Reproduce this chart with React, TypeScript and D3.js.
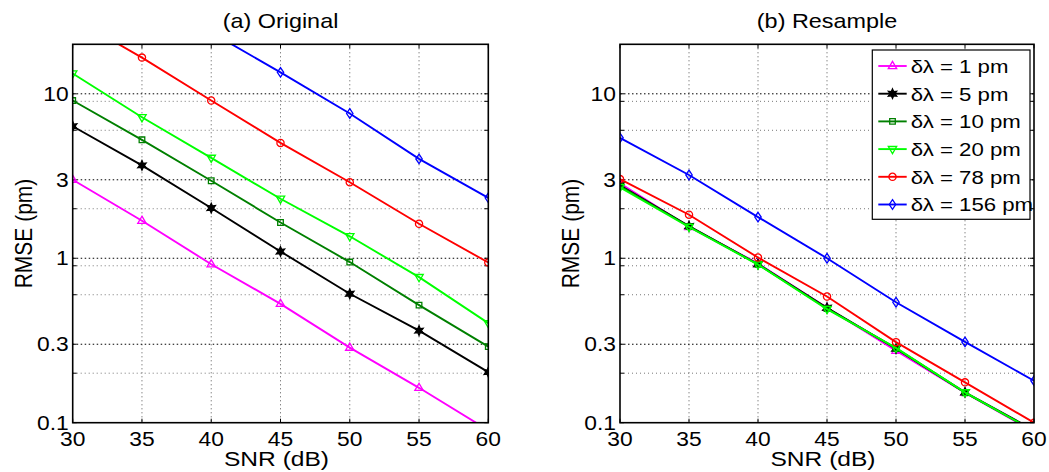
import React from 'react';
import * as d3 from 'd3';

// ---------- data ----------
const snr = [30, 35, 40, 45, 50, 55, 60];
const seriesNames = ['δλ = 1 pm', 'δλ = 5 pm', 'δλ = 10 pm', 'δλ = 20 pm', 'δλ = 78 pm', 'δλ = 156 pm'];
const seriesColors = ['#ff00ff', '#000000', '#008000', '#00ff00', '#ff0000', '#0000ff'];
const seriesMarkers = ['triangleUp', 'hexagram', 'square', 'triangleDown', 'circle', 'diamond'];

// (a) Original
const origDl1 = [3.0, 1.69, 0.92, 0.528, 0.286, 0.163, 0.09];
const origDl5 = [6.35, 3.67, 2.02, 1.1, 0.608, 0.363, 0.203];
const origDl10 = [9.1, 5.25, 2.96, 1.65, 0.948, 0.519, 0.29];
const origDl20 = [13.3, 7.2, 4.08, 2.3, 1.36, 0.768, 0.403];
const origDl78 = [29, 16.6, 9.1, 5.03, 2.9, 1.62, 0.942];
const origDl156 = [72, 41, 23.6, 13.5, 7.59, 4.02, 2.33];

// (b) Resample
const resDl1 = [2.86, 1.55, 0.93, 0.5, 0.274, 0.152, 0.088];
const resDl5 = [2.78, 1.57, 0.92, 0.5, 0.282, 0.153, 0.09];
const resDl10 = [2.75, 1.56, 0.92, 0.495, 0.283, 0.152, 0.089];
const resDl20 = [2.7, 1.55, 0.915, 0.49, 0.285, 0.153, 0.089];
const resDl78 = [3.03, 1.84, 1.01, 0.585, 0.309, 0.176, 0.1];
const resDl156 = [5.4, 3.21, 1.78, 1.0, 0.54, 0.31, 0.18];

const yTicks = [0.1, 0.3, 1, 3, 10];
const yTickLabels = ['0.1', '0.3', '1', '3', '10'];
const yMinorGrid = [0.2, 0.6, 0.9, 2, 6, 9];
const xTicks = [30, 35, 40, 45, 50, 55, 60];

// ---------- layout ----------
const W = 1049;
const H = 472;
const TOP = 44.3;
const BOTTOM = 422.7;
const SX = 1.17; // horizontal text stretch of the reference
const FONT = '"Liberation Sans", Arial, Helvetica, sans-serif';

function markerPath(type: string): string {
  switch (type) {
    case 'triangleUp':
      return 'M0,-4.6L4.2,2.6L-4.2,2.6Z';
    case 'triangleDown':
      return 'M0,4.6L4.2,-2.6L-4.2,-2.6Z';
    case 'square':
      return 'M-2.8,-2.8H2.8V2.8H-2.8Z';
    case 'circle':
      return 'M3.6,0A3.6,3.6 0 1,1 -3.6,0A3.6,3.6 0 1,1 3.6,0Z';
    case 'diamond':
      return 'M0,-4.8L3.2,0L0,4.8L-3.2,0Z';
    case 'hexagram': {
      const pts: string[] = [];
      for (let i = 0; i < 12; i++) {
        const a = (Math.PI / 6) * i - Math.PI / 2;
        const r = i % 2 === 0 ? 4.8 : 2.4;
        pts.push(`${(r * Math.cos(a)).toFixed(2)},${(r * Math.sin(a)).toFixed(2)}`);
      }
      return 'M' + pts.join('L') + 'Z';
    }
    default:
      return '';
  }
}

function Marker({ type, color, x, y }: { type: string; color: string; x: number; y: number }) {
  const filled = type === 'hexagram';
  return (
    <path
      d={markerPath(type)}
      transform={`translate(${x},${y})`}
      fill={filled ? color : 'none'}
      stroke={color}
      strokeWidth={1.3}
    />
  );
}

function SText({ x, y, children, anchor = 'middle', size, rotate = false }: any) {
  const tr = rotate
    ? `translate(${x},${y}) scale(${SX},1) rotate(-90)`
    : `translate(${x},${y}) scale(${SX},1)`;
  return (
    <text transform={tr} textAnchor={anchor} fontSize={size} fontFamily={FONT} fill="#000">
      {children}
    </text>
  );
}

interface PanelProps {
  id: string;
  left: number;
  right: number;
  title: string;
  series: number[][];
  legend?: boolean;
}

function Panel({ id, left, right, title, series, legend }: PanelProps) {
  const x = d3.scaleLinear().domain([30, 60]).range([left, right]);
  const y = d3.scaleLog().domain([0.1, 20]).range([BOTTOM, TOP]);
  const line = d3
    .line<number>()
    .x((_, i) => x(snr[i]))
    .y((d) => y(d));
  const cx = (left + right) / 2;

  return (
    <g>
      <defs>
        <clipPath id={`clip-${id}`}>
          <rect x={left} y={TOP} width={right - left} height={BOTTOM - TOP} />
        </clipPath>
      </defs>
      <rect x={left} y={TOP} width={right - left} height={BOTTOM - TOP} fill="#fff" />
      {/* grid */}
      {xTicks.slice(1, -1).map((t) => (
        <line key={`vx${t}`} x1={x(t)} x2={x(t)} y1={TOP} y2={BOTTOM} stroke="#555" strokeWidth={1} strokeDasharray="1,3" />
      ))}
      {yTicks.slice(1).map((t) => (
        <line key={`hy${t}`} x1={left} x2={right} y1={y(t)} y2={y(t)} stroke="#000" strokeWidth={1} strokeDasharray="1.5,2.5" />
      ))}
      {yMinorGrid.map((t) => (
        <line key={`hm${t}`} x1={left} x2={right} y1={y(t)} y2={y(t)} stroke="#777" strokeWidth={1} strokeDasharray="1,3" />
      ))}
      {/* ticks */}
      {xTicks.map((t) => (
        <g key={`tx${t}`} stroke="#000" strokeWidth={1}>
          <line x1={x(t)} x2={x(t)} y1={BOTTOM} y2={BOTTOM - 4} />
          <line x1={x(t)} x2={x(t)} y1={TOP} y2={TOP + 4} />
        </g>
      ))}
      {yTicks.concat(yMinorGrid).map((t) => (
        <g key={`ty${t}`} stroke="#000" strokeWidth={1}>
          <line x1={left} x2={left + 4} y1={y(t)} y2={y(t)} />
          <line x1={right} x2={right - 4} y1={y(t)} y2={y(t)} />
        </g>
      ))}
      {/* series */}
      <g clipPath={`url(#clip-${id})`}>
        {series.map((vals, si) => (
          <g key={`s${si}`}>
            <path d={line(vals) || ''} fill="none" stroke={seriesColors[si]} strokeWidth={1.9} />
            {vals.map((v, i) => (
              <Marker key={i} type={seriesMarkers[si]} color={seriesColors[si]} x={x(snr[i])} y={y(v)} />
            ))}
          </g>
        ))}
      </g>
      {/* frame */}
      <rect x={left} y={TOP} width={right - left} height={BOTTOM - TOP} fill="none" stroke="#000" strokeWidth={1.6} />
      {/* tick labels */}
      {xTicks.map((t) => (
        <SText key={`lx${t}`} x={x(t)} y={BOTTOM + 23} size={19.5}>
          {t}
        </SText>
      ))}
      {yTicks.map((t, i) => (
        <SText key={`ly${t}`} x={left - 4} y={y(t) + 7} size={19.5} anchor="end">
          {yTickLabels[i]}
        </SText>
      ))}
      {/* labels */}
      <SText x={cx} y={28} size={20}>
        {title}
      </SText>
      <SText x={cx - 4} y={465.7} size={21}>
        SNR (dB)
      </SText>
      <SText x={left - 41} y={(TOP + BOTTOM) / 2} size={21} rotate>
        RMSE (pm)
      </SText>
      {legend && (
        <g>
          <rect x={872.3} y={50} width={157.7} height={169.3} fill="#fff" stroke="#000" strokeWidth={1.2} />
          {seriesNames.map((name, si) => {
            const ry = 66 + si * 27.7;
            return (
              <g key={`lg${si}`}>
                <line x1={878.3} x2={906.7} y1={ry} y2={ry} stroke={seriesColors[si]} strokeWidth={1.9} />
                <Marker type={seriesMarkers[si]} color={seriesColors[si]} x={892.5} y={ry} />
                <SText x={910.7} y={ry + 6.8} size={19} anchor="start">
                  {name}
                </SText>
              </g>
            );
          })}
        </g>
      )}
    </g>
  );
}

export default function App() {
  const orig = [origDl1, origDl5, origDl10, origDl20, origDl78, origDl156];
  const res = [resDl1, resDl5, resDl10, resDl20, resDl78, resDl156];
  return (
    <svg
      width={W}
      height={H}
      viewBox={`0 0 ${W} ${H}`}
      style={{ position: 'absolute', left: 0, top: 0, background: '#fff' }}
    >
      <rect x={0} y={0} width={W} height={H} fill="#fff" />
      <Panel id="a" left={72.7} right={488.3} title="(a) Original" series={orig} />
      <Panel id="b" left={620} right={1034} title="(b) Resample" series={res} legend />
    </svg>
  );
}
